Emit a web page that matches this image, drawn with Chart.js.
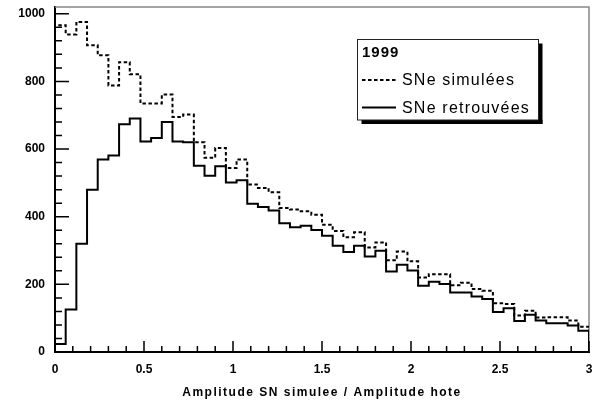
<!DOCTYPE html>
<html>
<head>
<meta charset="utf-8">
<script src="https://cdn.jsdelivr.net/npm/chart.js@4.4.0/dist/chart.umd.min.js"></script>
<style>
  html, body { margin: 0; padding: 0; background: #fff; }
  canvas { display: block; }
</style>
</head>
<body>
<canvas id="grafico" width="611" height="408"></canvas>
<script>
// ====== DADOS ======
const binWidth = 0.06;

const simulees = [
  966, 939, 976, 907, 877, 788, 857, 821, 735, 735,
  761, 695, 702, 620, 574, 603, 544, 569, 495, 485,
  472, 426, 421, 416, 406, 376, 358, 339, 354, 309,
  324, 271, 297, 268, 220, 230, 230, 197, 205, 186,
  181, 144, 142, 108, 122, 102, 103, 103, 93, 75
];

const retrouvees = [
  24, 126, 320, 480, 569, 581, 673, 690, 622, 633,
  680, 622, 620, 551, 521, 549, 501, 508, 438, 429,
  418, 381, 369, 373, 361, 344, 314, 296, 314, 282,
  299, 238, 258, 241, 196, 208, 201, 176, 176, 164,
  157, 118, 129, 92, 110, 93, 85, 85, 78, 63
];

const xTicks = [0, 0.5, 1, 1.5, 2, 2.5, 3];
const yTicks = [0, 200, 400, 600, 800, 1000];
const legendTitle = "1999";
const seriesLabels = ["SNe simulées", "SNe retrouvées"];
const xTitle = "Amplitude SN simulee / Amplitude hote";

const fonte = "'Liberation Sans', Arial, Helvetica, sans-serif";

// histograma -> pontos em degrau
function histo(valores) {
  const pts = [{ x: 0, y: 0 }];
  valores.forEach((v, i) => pts.push({ x: i * binWidth, y: v }));
  const fim = valores.length * binWidth;
  pts.push({ x: fim, y: valores[valores.length - 1] });
  pts.push({ x: fim, y: 0 });
  return pts;
}

// ====== MOLDURA + TICKS (estilo ROOT) ======
const moldura = {
  id: "moldura",
  beforeDatasetsDraw(chart) {
    const c = chart.ctx;
    const a = chart.chartArea;
    c.save();
    c.strokeStyle = "#888";
    c.lineWidth = 1.5;
    c.beginPath();
    c.moveTo(a.left, a.top);
    c.lineTo(a.right, a.top);
    c.lineTo(a.right, a.bottom);
    c.stroke();
    c.restore();
  },
  afterDraw(chart) {
    const c = chart.ctx;
    const a = chart.chartArea;
    const sx = chart.scales.x;
    const sy = chart.scales.y;

    // ticks para dentro, 5 divisoes por intervalo
    c.save();
    c.setLineDash([]);
    c.strokeStyle = "#000";
    c.lineWidth = 1.5;
    c.beginPath();
    xTicks.forEach((t, i) => {
      const px = sx.getPixelForValue(t);
      c.moveTo(px, a.bottom);
      c.lineTo(px, a.bottom - 11);
      if (i < xTicks.length - 1) {
        const passo = (xTicks[i + 1] - t) / 5;
        for (let k = 1; k < 5; k++) {
          const pm = sx.getPixelForValue(t + k * passo);
          c.moveTo(pm, a.bottom);
          c.lineTo(pm, a.bottom - 6);
        }
      }
    });
    yTicks.forEach((t, i) => {
      const py = sy.getPixelForValue(t);
      c.moveTo(a.left, py);
      c.lineTo(a.left + 14, py);
      if (i < yTicks.length - 1) {
        const passo = (yTicks[i + 1] - t) / 5;
        for (let k = 1; k < 5; k++) {
          const pm = sy.getPixelForValue(t + k * passo);
          c.moveTo(a.left, pm);
          c.lineTo(a.left + 7, pm);
        }
      }
    });
    c.stroke();

    // titulo do eixo x
    c.fillStyle = "#000";
    c.font = "bold 12px " + fonte;
    c.letterSpacing = "1.5px";
    c.textAlign = "center";
    c.textBaseline = "alphabetic";
    c.fillText(xTitle, (a.left + a.right) / 2, 396);
    c.restore();
  }
};

// ====== LEGENDA ======
const legenda = {
  id: "legenda",
  afterDraw(chart) {
    const c = chart.ctx;
    const L = 357.5, T = 39.5, R = 538.5, B = 120;

    c.save();
    // sombra
    c.fillStyle = "#000";
    c.fillRect(R, T + 4, 4, B - T);
    c.fillRect(L + 4, B, R - L, 4);
    // caixa
    c.fillStyle = "#fff";
    c.fillRect(L, T, R - L, B - T);
    c.strokeStyle = "#222";
    c.lineWidth = 1;
    c.strokeRect(L, T, R - L, B - T);

    c.fillStyle = "#000";
    c.textAlign = "left";
    c.textBaseline = "middle";
    c.letterSpacing = "1px";
    c.font = "bold 15px " + fonte;
    c.fillText(legendTitle, 362, 53);

    const linhas = [80, 107.5];
    chart.data.datasets.forEach((ds, i) => {
      c.strokeStyle = ds.borderColor;
      c.lineWidth = ds.borderWidth;
      c.setLineDash(ds.borderDash || []);
      c.beginPath();
      c.moveTo(362, linhas[i]);
      c.lineTo(396, linhas[i]);
      c.stroke();
      c.setLineDash([]);
      c.font = "16px " + fonte;
      c.letterSpacing = "1.2px";
      c.fillText(ds.label, 402, linhas[i] + 1);
    });
    c.restore();
  }
};

// ====== GRÁFICO ======
const ctx = document.getElementById("grafico").getContext("2d");

const fonteTicks = { family: fonte, size: 12, weight: "bold" };

new Chart(ctx, {
  type: "line",
  data: {
    datasets: [
      {
        label: seriesLabels[0],
        data: histo(simulees),
        stepped: true,
        borderColor: "#000",
        borderWidth: 2,
        borderDash: [3.5, 2.5],
        pointRadius: 0,
        fill: false
      },
      {
        label: seriesLabels[1],
        data: histo(retrouvees),
        stepped: true,
        borderColor: "#000",
        borderWidth: 2,
        pointRadius: 0,
        fill: false
      }
    ]
  },
  options: {
    responsive: false,
    animation: false,
    devicePixelRatio: 1,
    layout: { padding: { top: 7, right: 22, bottom: 0, left: 0 } },
    plugins: { legend: { display: false }, tooltip: { enabled: false } },
    scales: {
      x: {
        type: "linear",
        min: 0,
        max: 3,
        afterBuildTicks: (s) => { s.ticks = xTicks.map((v) => ({ value: v })); },
        afterFit: (s) => { s.height = 56; s.paddingLeft = 0; s.paddingRight = 0; },
        grid: { display: false, drawTicks: false },
        border: { color: "#000", width: 2 },
        ticks: { padding: 10, color: "#000", font: fonteTicks, maxRotation: 0, autoSkip: false, callback: (v) => String(v) }
      },
      y: {
        type: "linear",
        min: 0,
        max: 1020,
        afterBuildTicks: (s) => { s.ticks = yTicks.map((v) => ({ value: v })); },
        afterFit: (s) => { s.width = 55; s.paddingTop = 0; s.paddingBottom = 0; },
        grid: { display: false, drawTicks: false },
        border: { color: "#000", width: 2 },
        ticks: { padding: 10, color: "#000", font: fonteTicks, callback: (v) => String(v) }
      }
    }
  },
  plugins: [moldura, legenda]
});
</script>
</body>
</html>
